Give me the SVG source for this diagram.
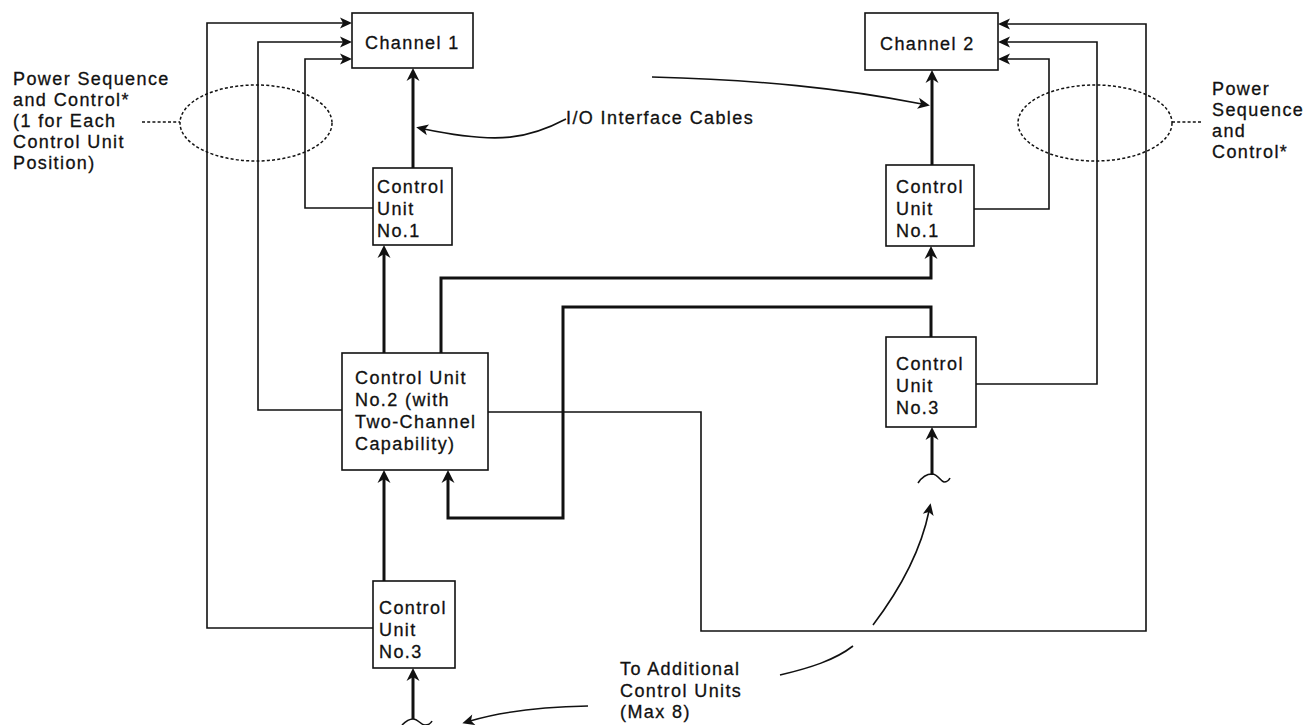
<svg xmlns="http://www.w3.org/2000/svg" width="1310" height="725" viewBox="0 0 1310 725">
<style>
.bg{fill:#fff}
.box{fill:#fff;stroke:#111;stroke-width:1.6}
.t{font-family:"Liberation Sans",Arial,sans-serif;font-size:18px;letter-spacing:1.4px;fill:#111;stroke:#111;stroke-width:0.3}
.thin{fill:none;stroke:#111;stroke-width:1.6}
.thick{fill:none;stroke:#111;stroke-width:3}
.dash{fill:none;stroke:#111;stroke-width:1.5;stroke-dasharray:3 2.2}
</style>
<defs>
<marker id="ah" viewBox="-6 -7 15 14" refX="0" refY="0" markerWidth="15" markerHeight="14" markerUnits="userSpaceOnUse" orient="auto">
<path d="M8,0 L-5,-6.5 L-1,0 L-5,6.5 Z" fill="#111"/>
</marker>
<marker id="as" viewBox="-6 -6 15 12" refX="0" refY="0" markerWidth="15" markerHeight="12" markerUnits="userSpaceOnUse" orient="auto">
<path d="M8,0 L-4,-5.5 L-1,0 L-4,5.5 Z" fill="#111"/>
</marker>
</defs>
<rect class="bg" x="0" y="0" width="1310" height="725"/>

<g id="connectors">
<!-- power sequence lines (thin) -->
<path class="thin" d="M373 208 H305 V59 H344" marker-end="url(#as)"/>
<path class="thin" d="M342 410 H258 V42 H344" marker-end="url(#as)"/>
<path class="thin" d="M373 628 H207 V23 H344" marker-end="url(#as)"/>
<path class="thin" d="M974 209 H1049 V59 H1006" marker-end="url(#as)"/>
<path class="thin" d="M976 384 H1097 V42 H1006" marker-end="url(#as)"/>
<path class="thin" d="M488 412 H701 V631 H1146 V24 H1006" marker-end="url(#as)"/>
<!-- I/O interface cables (thick) -->
<path class="thick" d="M413 168 V76" marker-end="url(#ah)"/>
<path class="thick" d="M932 165 V78" marker-end="url(#ah)"/>
<path class="thick" d="M384 353 V253" marker-end="url(#ah)"/>
<path class="thick" d="M441 353 V278 H931 V254" marker-end="url(#ah)"/>
<path class="thick" d="M384 581 V478" marker-end="url(#ah)"/>
<path class="thick" d="M931 337 V307 H563 V518 H448 V478" marker-end="url(#ah)"/>
<path class="thick" d="M932 475 V435" marker-end="url(#ah)"/>
<path class="thick" d="M413 719 V676" marker-end="url(#ah)"/>
<!-- cable continuation squiggles -->
<path class="thin" d="M918 483 C922 477 927 474 932 474 C938 474 940 481 944 482 C947 482 949 480 950 478" stroke-width="2"/>
<path class="thin" d="M402 725 C406 721 409 719 413 719 C418 719 421 725 425 725 C428 725 431 723 432 721" stroke-width="2"/>
<!-- annotation pointers -->
<path class="thin" d="M566 119 C530 138 500 145 424 129" marker-end="url(#as)"/>
<path class="thin" d="M652 77 C760 80 840 88 922 104" marker-end="url(#as)"/>
<path class="thin" d="M780 675 C810 668 835 660 853 646"/>
<path class="thin" d="M873 625 C898 592 920 555 929 511" marker-end="url(#as)"/>
<path class="thin" d="M588 706 C540 707 500 712 470 721" marker-end="url(#as)"/>
<!-- dashed leaders -->
<path class="dash" d="M142 122 H180"/>
<path class="dash" d="M1172 122 H1202"/>
</g>

<g id="channel1">
<rect class="box" x="352" y="13" width="121" height="55"/>
<text class="t" x="365" y="49">Channel 1</text>
</g>
<g id="channel2">
<rect class="box" x="865" y="13" width="133" height="57"/>
<text class="t" x="880" y="50">Channel 2</text>
</g>
<g id="cu1-left">
<rect class="box" x="373" y="168" width="79" height="77"/>
<text class="t" x="377" y="193">Control<tspan x="377" dy="22">Unit</tspan><tspan x="377" dy="22">No.1</tspan></text>
</g>
<g id="cu2">
<rect class="box" x="342" y="353" width="146" height="117"/>
<text class="t" x="355" y="384">Control Unit<tspan x="355" dy="22">No.2 (with</tspan><tspan x="355" dy="22">Two-Channel</tspan><tspan x="355" dy="22">Capability)</tspan></text>
</g>
<g id="cu3-left">
<rect class="box" x="373" y="581" width="82" height="87"/>
<text class="t" x="379" y="614">Control<tspan x="379" dy="22">Unit</tspan><tspan x="379" dy="22">No.3</tspan></text>
</g>
<g id="cu1-right">
<rect class="box" x="886" y="165" width="88" height="81"/>
<text class="t" x="896" y="193">Control<tspan x="896" dy="22">Unit</tspan><tspan x="896" dy="22">No.1</tspan></text>
</g>
<g id="cu3-right">
<rect class="box" x="886" y="337" width="90" height="90"/>
<text class="t" x="896" y="370">Control<tspan x="896" dy="22">Unit</tspan><tspan x="896" dy="22">No.3</tspan></text>
</g>
<g id="power-left">
<ellipse class="dash" cx="256" cy="123" rx="76" ry="38"/>
<text class="t" x="13" y="85">Power Sequence<tspan x="13" dy="21">and Control*</tspan><tspan x="13" dy="21">(1 for Each</tspan><tspan x="13" dy="21">Control Unit</tspan><tspan x="13" dy="21">Position)</tspan></text>
</g>
<g id="power-right">
<ellipse class="dash" cx="1095" cy="123" rx="77" ry="38"/>
<text class="t" x="1212" y="95">Power<tspan x="1212" dy="21">Sequence</tspan><tspan x="1212" dy="21">and</tspan><tspan x="1212" dy="21">Control*</tspan></text>
</g>
<g id="io-label">
<text class="t" x="566" y="124">I/O Interface Cables</text>
</g>
<g id="additional-label">
<text class="t" x="620" y="675">To Additional<tspan x="620" dy="22">Control Units</tspan><tspan x="620" dy="21">(Max 8)</tspan></text>
</g>
</svg>
